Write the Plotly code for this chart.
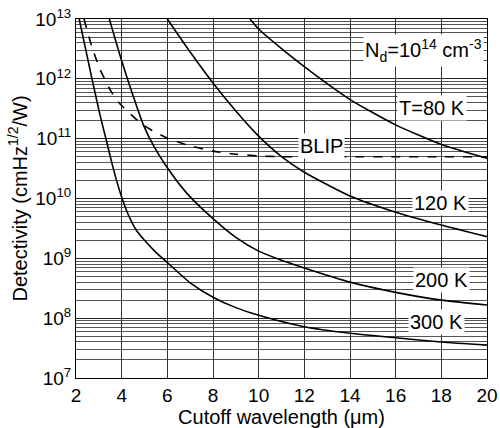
import plotly.graph_objects as go

# ---- data (cutoff wavelength in um, detectivity in cmHz^1/2/W) ----
wl_300 = [2.14, 2.45, 2.7, 3.05, 3.31, 3.6, 3.8, 4.02, 4.3, 4.63, 5.0, 5.5, 6.0, 7.0, 8.0, 9.0, 10.0, 12.0, 14.0, 16.0, 18.0, 20.0]
d_300 = [1e13, 2.8e12, 1e12, 2.5e11, 1e11, 3.55e10, 1.86e10, 1e10, 5.25e9, 3e9, 2e9, 1.26e9, 8.5e8, 3.9e8, 2.24e8, 1.5e8, 1.12e8, 7.2e7, 5.6e7, 4.7e7, 4e7, 3.55e7]

wl_200 = [3.46, 4.0, 4.5, 4.95, 5.4, 5.97, 6.85, 8.0, 9.0, 10.0, 11.0, 12.0, 14.0, 16.0, 18.0, 20.0]
d_200 = [1e13, 2e12, 5.2e11, 1.7e11, 7.6e10, 3.4e10, 1.23e10, 4.6e9, 2.24e9, 1.32e9, 9.3e8, 6.9e8, 4e8, 2.7e8, 2e8, 1.66e8]

wl_120 = [6.0, 7.0, 8.0, 9.0, 10.0, 11.0, 12.0, 14.0, 16.0, 18.0, 20.0]
d_120 = [1e13, 2.8e12, 8.5e11, 2.9e11, 1.1e11, 5e10, 2.75e10, 1.1e10, 5.9e9, 3.6e9, 2.3e9]

wl_80 = [9.62, 10.0, 11.0, 12.0, 13.0, 14.0, 16.0, 18.0, 20.0]
d_80 = [1e13, 6.8e12, 3.2e12, 1.6e12, 8.3e11, 4.5e11, 1.7e11, 8e10, 4.7e10]

wl_blip = [2.35, 2.7, 3.05, 3.5, 3.93, 4.93, 6.0, 7.0, 8.0, 9.0, 10.0, 11.0, 12.0, 14.0, 16.0, 18.0, 20.0]
d_blip = [1e13, 3.4e12, 1.45e12, 6.5e11, 3.8e11, 1.7e11, 1.02e11, 7.6e10, 6.2e10, 5.5e10, 5.15e10, 5e10, 5e10, 5e10, 5e10, 5e10, 5e10]

x_ticks = [2, 4, 6, 8, 10, 12, 14, 16, 18, 20]
y_exps = [7, 8, 9, 10, 11, 12, 13]

FONT = "Liberation Sans, Arial, sans-serif"

fig = go.Figure()
for wl, d in [(wl_300, d_300), (wl_200, d_200), (wl_120, d_120), (wl_80, d_80)]:
    fig.add_trace(go.Scatter(x=wl, y=d, mode="lines",
                             line=dict(color="black", width=1.6, shape="spline", smoothing=0.6),
                             showlegend=False, hoverinfo="skip"))
fig.add_trace(go.Scatter(x=wl_blip, y=d_blip, mode="lines",
                         line=dict(color="black", width=1.6, dash="dash", shape="spline", smoothing=0.6),
                         showlegend=False, hoverinfo="skip"))

L, R, T, B = 76, 13, 19, 50
PW, PH = 500 - L - R, 428 - T - B

labels = [
    ("N<sub>d</sub>=10<sup>14</sup> cm<sup>-3</sup>", 423, 50),
    ("T=80 K", 432, 108),
    ("BLIP", 321, 146),
    ("120 K", 440, 203),
    ("200 K", 441, 280),
    ("300 K", 436, 322),
]
for text, px, py in labels:
    fig.add_annotation(text=text, xref="paper", yref="paper",
                       x=(px - L) / PW, y=1 - (py - T) / PH,
                       xanchor="center", yanchor="middle",
                       showarrow=False, bgcolor="white", borderpad=1,
                       font=dict(family=FONT, size=20, color="black"))

fig.update_layout(
    width=500, height=428,
    margin=dict(l=L, r=R, t=T, b=B, autoexpand=False),
    paper_bgcolor="white", plot_bgcolor="white",
    font=dict(family=FONT, size=18, color="black"),
)
fig.update_xaxes(
    range=[2, 20], tickvals=x_ticks, ticktext=[str(v) for v in x_ticks],
    showgrid=True, gridcolor="#333", gridwidth=1,
    showline=True, linecolor="black", linewidth=1, mirror=True,
    ticks="", zeroline=False, automargin=False,
    tickfont=dict(size=19),
    title=dict(text="Cutoff wavelength (\u03bcm)", font=dict(size=20), standoff=4),
)
fig.update_yaxes(
    type="log", range=[7, 13],
    tickvals=[10 ** e for e in y_exps],
    ticktext=["10<sup>%d</sup>" % e for e in y_exps],
    showgrid=True, gridcolor="#222", gridwidth=1,
    minor=dict(dtick="D1", showgrid=True, gridcolor="#555", gridwidth=1, ticks=""),
    showline=True, linecolor="black", linewidth=1, mirror=True,
    ticks="", zeroline=False, automargin=False,
    tickfont=dict(size=19),
    title=dict(text="Detectivity (cmHz<sup>1/2</sup>/W)", font=dict(size=20), standoff=2),
)

fig.write_html("out.html")
